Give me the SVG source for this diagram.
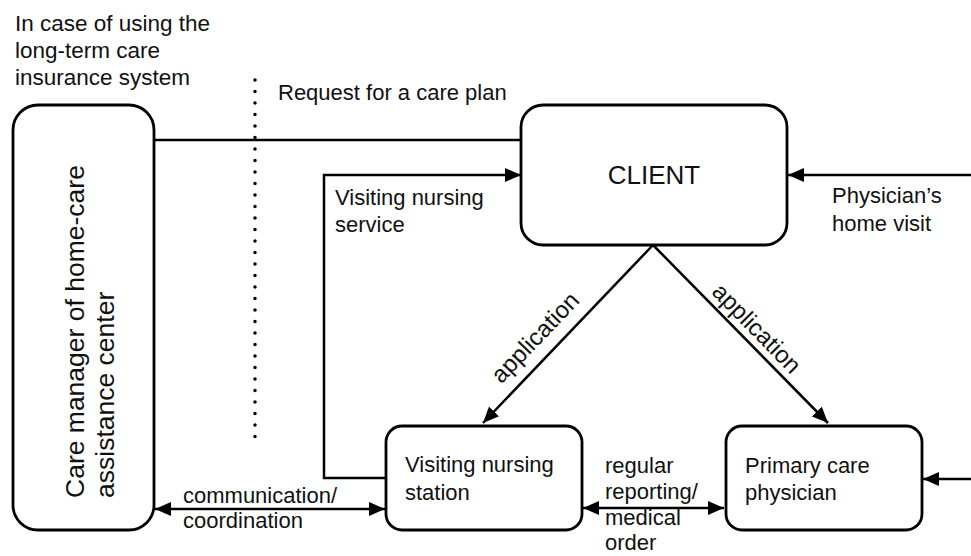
<svg xmlns="http://www.w3.org/2000/svg" width="971" height="556" viewBox="0 0 971 556">
<style>
.box{fill:#fff;stroke:#000;stroke-width:2.8}
.ln{fill:none;stroke:#000;stroke-width:2.5}
.t{font-family:"Liberation Sans",Arial,sans-serif;font-size:22px;fill:#111}
.big{font-size:26px}
.app{font-size:24px}
</style>
<defs>
<marker id="ah" markerUnits="userSpaceOnUse" markerWidth="18" markerHeight="14" refX="16" refY="7" orient="auto-start-reverse">
<path d="M0,0 L16,7 L0,14 Z" fill="#000"/>
</marker>
</defs>
<rect width="971" height="556" fill="#fff"/>
<g id="note">
<text class="t" x="15" y="31" style="font-size:22.5px">In case of using the</text>
<text class="t" x="15" y="58" style="font-size:22.5px">long-term care</text>
<text class="t" x="15" y="85" style="font-size:22.5px">insurance system</text>
</g>
<g id="divider">
<line x1="255" y1="80" x2="255" y2="448" stroke="#000" stroke-width="3.5" stroke-linecap="round" stroke-dasharray="0 11.5"/>
</g>
<g id="connectors">
<line class="ln" x1="153" y1="140" x2="521" y2="140"/>
<polyline class="ln" points="386,478 324,478 324,175 521,175" marker-end="url(#ah)"/>
<line class="ln" x1="971" y1="175" x2="788" y2="175" marker-end="url(#ah)"/>
<line class="ln" x1="653" y1="245" x2="483" y2="423" marker-end="url(#ah)"/>
<line class="ln" x1="653" y1="245" x2="828" y2="423" marker-end="url(#ah)"/>
<line class="ln" x1="155" y1="509" x2="385" y2="509" marker-start="url(#ah)" marker-end="url(#ah)"/>
<line class="ln" x1="583" y1="508" x2="724" y2="508" marker-start="url(#ah)" marker-end="url(#ah)"/>
<line class="ln" x1="971" y1="479" x2="923" y2="479" marker-end="url(#ah)"/>
<text class="t" x="278" y="100">Request for a care plan</text>
<text class="t" x="335" y="205">Visiting nursing</text>
<text class="t" x="335" y="232">service</text>
<text class="t" x="832" y="203">Physician’s</text>
<text class="t" x="832" y="231">home visit</text>
<text class="t" x="183" y="503">communication/</text>
<text class="t" x="183" y="528">coordination</text>
<text class="t" x="605" y="473">regular</text>
<text class="t" x="605" y="499">reporting/</text>
<text class="t" x="605" y="525">medical</text>
<text class="t" x="605" y="550">order</text>
<text class="t app" text-anchor="middle" transform="translate(541,343) rotate(-46.3)">application</text>
<text class="t app" text-anchor="middle" transform="translate(751,334) rotate(45.5)">application</text>
</g>
<g id="care-manager">
<rect class="box" x="13" y="105" width="141" height="425" rx="25"/>
<text class="t" style="font-size:26.5px" transform="translate(84,498) rotate(-90)"><tspan x="0" y="0">Care manager of home-care</tspan><tspan x="0" y="30">assistance center</tspan></text>
</g>
<g id="client">
<rect class="box" x="521" y="105" width="266" height="140" rx="22"/>
<text class="t big" x="654" y="184" text-anchor="middle">CLIENT</text>
</g>
<g id="nursing-station">
<rect class="box" x="386" y="426" width="196" height="104" rx="16"/>
<text class="t" x="405" y="472">Visiting nursing</text>
<text class="t" x="405" y="500">station</text>
</g>
<g id="primary-care">
<rect class="box" x="726" y="426" width="196" height="104" rx="16"/>
<text class="t" x="745" y="473">Primary care</text>
<text class="t" x="745" y="500">physician</text>
</g>
</svg>
